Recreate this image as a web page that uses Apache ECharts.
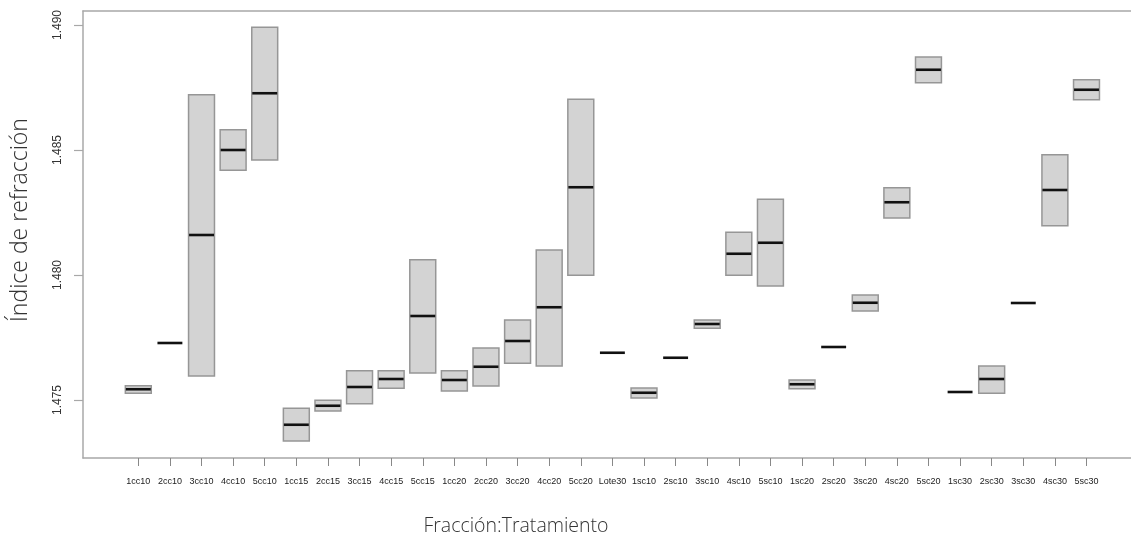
<!DOCTYPE html>
<html>
<head>
<meta charset="utf-8">
<script src="https://cdn.jsdelivr.net/npm/echarts@6/dist/echarts.min.js"></script>
<style>html,body{margin:0;padding:0;background:#fff}#c{width:1131px;height:535px}</style>
</head>
<body>
<div id="c"></div>
<script>
const categories = ['1cc10','2cc10','3cc10','4cc10','5cc10','1cc15','2cc15','3cc15','4cc15','5cc15',
  '1cc20','2cc20','3cc20','4cc20','5cc20','Lote30','1sc10','2sc10','3sc10','4sc10','5sc10',
  '1sc20','2sc20','3sc20','4sc20','5sc20','1sc30','2sc30','3sc30','4sc30','5sc30'];
const lows = [1.47527,1.47728,1.47596,1.48419,1.48460,1.47336,1.47456,1.47485,1.47547,1.47608,
  1.47536,1.47556,1.47647,1.47636,1.47999,1.47689,1.47508,1.47669,1.47787,1.47999,1.47956,
  1.47545,1.47712,1.47856,1.48228,1.48769,1.47532,1.47527,1.47888,1.48197,1.48701];
const medians = [1.47543,1.47728,1.48160,1.48500,1.48727,1.47401,1.47477,1.47552,1.47584,1.47836,
  1.47580,1.47633,1.47736,1.47871,1.48351,1.47689,1.47529,1.47669,1.47804,1.48085,1.48129,
  1.47563,1.47712,1.47889,1.48291,1.48821,1.47532,1.47584,1.47888,1.48340,1.48741];
const highs = [1.47557,1.47728,1.48721,1.48581,1.48991,1.47467,1.47499,1.47617,1.47617,1.48061,
  1.47617,1.47708,1.47820,1.48100,1.48703,1.47689,1.47548,1.47669,1.47820,1.48171,1.48303,
  1.47580,1.47712,1.47920,1.48349,1.48872,1.47532,1.47636,1.47888,1.48481,1.48781];
const yTicks = [1.475, 1.480, 1.485, 1.490];
const yMin = 1.47268, yMax = 1.49056;

const chart = echarts.init(document.getElementById('c'), null, {renderer: 'canvas'});
const frameColor = '#a8a8a8';

function renderItem(params, api) {
  const x = api.value(0);
  const lo = api.value(1), med = api.value(2), hi = api.value(3);
  const pHi = api.coord([x, hi]);
  const pLo = api.coord([x, lo]);
  const pMed = api.coord([x, med]);
  const bw = api.size([1, 0])[0] * 0.82;
  const children = [];
  const h = pLo[1] - pHi[1];
  if (h > 0.5) {
    children.push({
      type: 'rect',
      shape: {x: pHi[0] - bw / 2, y: pHi[1], width: bw, height: h},
      style: {fill: '#d3d3d3', stroke: '#969696', lineWidth: 1.5}
    });
  }
  children.push({
    type: 'line',
    shape: {x1: pMed[0] - bw / 2 + 0.5, y1: pMed[1], x2: pMed[0] + bw / 2 - 0.5, y2: pMed[1]},
    style: {stroke: '#111', lineWidth: 2.6}
  });
  return {type: 'group', children};
}

const option = {
  animation: false,
  backgroundColor: '#fff',
  grid: [
    {left: 83, right: 0, top: 11, bottom: 77},
    {left: 122.5, right: 28.7, top: 11, bottom: 77}
  ],
  xAxis: [
    {type: 'value', gridIndex: 0, min: 0, max: 1, position: 'bottom',
      axisLine: {show: true, lineStyle: {color: frameColor, width: 1.5}},
      axisTick: {show: false}, axisLabel: {show: false}, splitLine: {show: false}},
    {type: 'value', gridIndex: 0, min: 0, max: 1, position: 'top',
      axisLine: {show: true, lineStyle: {color: frameColor, width: 1.5}},
      axisTick: {show: false}, axisLabel: {show: false}, splitLine: {show: false}},
    {type: 'category', gridIndex: 1, data: categories, position: 'bottom',
      axisLine: {show: false},
      axisTick: {show: true, alignWithLabel: true, length: 8, lineStyle: {color: '#888', width: 1}},
      axisLabel: {show: true, interval: 0, margin: 19, fontSize: 9, color: '#222',
        fontFamily: 'Liberation Sans, Arial, sans-serif'},
      splitLine: {show: false}}
  ],
  yAxis: [
    {type: 'value', gridIndex: 0, min: yMin, max: yMax,
      axisLine: {show: true, lineStyle: {color: frameColor, width: 1.5}},
      axisTick: {show: true, length: 9, customValues: yTicks, lineStyle: {color: frameColor, width: 1.2}},
      axisLabel: {show: true, customValues: yTicks, rotate: 90, margin: 19, fontSize: 12, color: '#333',
        fontFamily: 'Liberation Sans, Arial, sans-serif',
        formatter: v => v.toFixed(3)},
      splitLine: {show: false}},
    {type: 'value', gridIndex: 1, min: yMin, max: yMax, show: false, splitLine: {show: false}}
  ],
  graphic: [
    {type: 'text', x: 20, y: 220, rotation: Math.PI / 2,
      style: {text: 'Índice de refracción', fill: '#333', fontSize: 23,
        fontFamily: 'Open Sans, sans-serif', fontWeight: 300,
        textAlign: 'center', textVerticalAlign: 'middle'}},
    {type: 'text', x: 516, y: 526,
      style: {text: 'Fracción:Tratamiento', fill: '#333', fontSize: 19.5,
        fontFamily: 'Open Sans, sans-serif', fontWeight: 300,
        textAlign: 'center', textVerticalAlign: 'middle'}}
  ],
  series: [{
    type: 'custom',
    xAxisIndex: 2,
    yAxisIndex: 1,
    renderItem: renderItem,
    encode: {x: 0, y: [1, 2, 3]},
    data: categories.map((c, i) => [i, lows[i], medians[i], highs[i]])
  }]
};
chart.setOption(option);
</script>
</body>
</html>
